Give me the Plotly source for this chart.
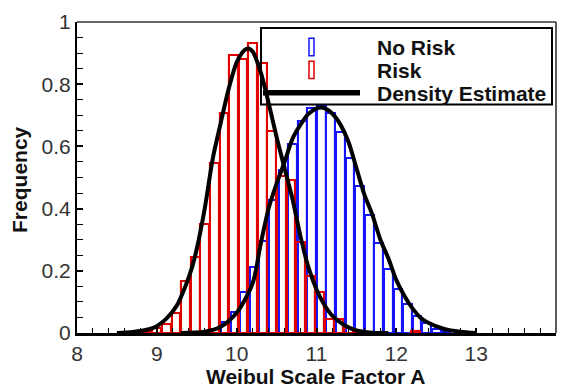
import plotly.graph_objects as go

# ---------------- data ----------------
red_bin_centers = [8.88, 9.00, 9.12, 9.24, 9.36, 9.48, 9.60, 9.72, 9.84, 9.96, 10.08, 10.20,
                   10.32, 10.44, 10.56, 10.68, 10.80, 10.92, 11.04, 11.16, 11.28, 11.40, 11.52, 12.24]
red_freq = [0.005, 0.017, 0.029, 0.064, 0.167, 0.243, 0.350, 0.548, 0.706, 0.893, 0.882, 0.932,
            0.867, 0.651, 0.504, 0.493, 0.292, 0.184, 0.133, 0.046, 0.046, 0.015, 0.005, 0.005]

blue_bin_centers = [9.62, 9.74, 9.86, 9.98, 10.10, 10.22, 10.34, 10.46, 10.58, 10.70, 10.82, 10.94,
                    11.06, 11.18, 11.30, 11.42, 11.54, 11.66, 11.78, 11.90, 12.02, 12.14, 12.26,
                    12.38, 12.50, 12.62]
blue_freq = [0.004, 0.012, 0.035, 0.069, 0.132, 0.211, 0.296, 0.427, 0.523, 0.607, 0.681, 0.723,
             0.730, 0.709, 0.646, 0.563, 0.474, 0.378, 0.291, 0.207, 0.141, 0.094, 0.054,
             0.033, 0.012, 0.005]

red_curve_x = [8.5, 8.7, 8.9, 9.0, 9.12, 9.25, 9.35, 9.44, 9.5, 9.6, 9.7, 9.8, 9.9, 10.0, 10.1,
               10.15, 10.2, 10.3, 10.4, 10.5, 10.6, 10.7, 10.8, 10.9, 11.0, 11.1, 11.2, 11.35,
               11.5, 11.7, 11.9]
red_curve_y = [0.0, 0.003, 0.012, 0.022, 0.046, 0.088, 0.145, 0.21, 0.27, 0.40, 0.56, 0.675, 0.785,
               0.87, 0.91, 0.915, 0.905, 0.84, 0.74, 0.63, 0.53, 0.43, 0.31, 0.21, 0.14, 0.09,
               0.055, 0.025, 0.008, 0.001, 0.0]

blue_curve_x = [9.3, 9.6, 9.8, 10.0, 10.2, 10.3, 10.4, 10.5, 10.6, 10.7, 10.8, 10.9, 11.0, 11.05,
                11.1, 11.2, 11.3, 11.4, 11.5, 11.6, 11.7, 11.8, 11.9, 12.0, 12.1, 12.2, 12.3,
                12.4, 12.6, 12.8, 13.0]
blue_curve_y = [0.0, 0.004, 0.02, 0.065, 0.16, 0.285, 0.40, 0.48, 0.55, 0.625, 0.67, 0.705, 0.722,
                0.725, 0.723, 0.705, 0.67, 0.615, 0.53, 0.445, 0.38, 0.30, 0.24, 0.17, 0.12,
                0.08, 0.05, 0.033, 0.013, 0.004, 0.0]

x_ticks = [8, 9, 10, 11, 12, 13, 14]
y_ticks = [0, 0.2, 0.4, 0.6, 0.8, 1]
legend_labels = ["No Risk", "Risk", "Density Estimate"]

BIN_W = 0.11
BLUE = "#1414ff"
RED = "#e00000"
FONT = "Liberation Sans, Arial, sans-serif"

fig = go.Figure()
fig.add_trace(go.Bar(x=blue_bin_centers, y=blue_freq, width=BIN_W,
                     marker=dict(color="rgba(0,0,0,0)", line=dict(color=BLUE, width=2.1)),
                     showlegend=False))
fig.add_trace(go.Bar(x=red_bin_centers, y=red_freq, width=BIN_W,
                     marker=dict(color="rgba(0,0,0,0)", line=dict(color=RED, width=2.1)),
                     showlegend=False))
for cx, cy in [(red_curve_x, red_curve_y), (blue_curve_x, blue_curve_y)]:
    fig.add_trace(go.Scatter(x=cx, y=cy, mode="lines",
                             line=dict(color="black", width=4, shape="spline", smoothing=0.8),
                             showlegend=False))

# plot-area geometry helpers (pixels -> paper)
L, R, T, B = 77, 10, 16, 58
W, H = 566, 391
PW, PH = W - L - R, H - T - B


def px(xp):
    return (xp - L) / PW


def py(yp):
    return (H - B - yp) / PH


shapes = [
    # top & right frame
    dict(type="line", xref="paper", yref="paper", x0=0, x1=1, y0=1, y1=1,
         line=dict(color="#333333", width=1.6)),
    dict(type="line", xref="paper", yref="paper", x0=1, x1=1, y0=0, y1=1,
         line=dict(color="#333333", width=1.6)),
    # legend box
    dict(type="rect", xref="paper", yref="paper", x0=px(261), x1=px(552), y0=py(100), y1=py(22),
         line=dict(color="black", width=2), fillcolor="rgba(0,0,0,0)"),
    # legend icons
    dict(type="rect", xref="paper", yref="paper", x0=px(309), x1=px(314), y0=py(50.5), y1=py(32.5),
         line=dict(color=BLUE, width=1.5), fillcolor="rgba(0,0,0,0)"),
    dict(type="rect", xref="paper", yref="paper", x0=px(309), x1=px(314), y0=py(73.5), y1=py(56),
         line=dict(color=RED, width=1.5), fillcolor="rgba(0,0,0,0)"),
    dict(type="line", xref="paper", yref="paper", x0=px(263), x1=px(360), y0=py(88), y1=py(88),
         line=dict(color="black", width=5.5)),
]

annotations = []
for lab, yc in zip(legend_labels, [40.5, 64, 87.5]):
    annotations.append(dict(text=lab, xref="paper", yref="paper", x=px(375), y=py(yc + 1),
                            xanchor="left", yanchor="middle", showarrow=False,
                            font=dict(family=FONT, size=21, color="#111111", weight="bold")))
annotations.append(dict(text="Weibul Scale Factor A", xref="paper", yref="paper",
                        x=px(315.5), y=py(377), xanchor="center", yanchor="middle", showarrow=False,
                        font=dict(family=FONT, size=21, color="#111111", weight="bold")))
annotations.append(dict(text="Frequency", xref="paper", yref="paper", textangle=-90,
                        x=px(20), y=py(177), xanchor="center", yanchor="middle", showarrow=False,
                        font=dict(family=FONT, size=21, color="#111111", weight="bold")))

fig.update_layout(
    width=W, height=H,
    margin=dict(l=L, r=R, t=T, b=B, pad=0),
    paper_bgcolor="white", plot_bgcolor="white",
    barmode="overlay", bargap=0,
    shapes=shapes, annotations=annotations,
    showlegend=False,
    xaxis=dict(range=[8, 14], tickvals=x_ticks, ticks="inside", ticklen=5, tickwidth=1.5,
               tickcolor="black", showline=True, linecolor="black", linewidth=3,
               showgrid=False, zeroline=False,
               minor=dict(dtick=0.2, ticks="inside", ticklen=5, tickwidth=1.2, tickcolor="black",
                          showgrid=False),
               tickfont=dict(family=FONT, size=21, color="#333333")),
    yaxis=dict(range=[0, 1], tickvals=y_ticks, ticktext=["0", "0.2", "0.4", "0.6", "0.8", "1"],
               ticks="inside", ticklen=6, tickwidth=1.5,
               tickcolor="black", showline=True, linecolor="black", linewidth=2,
               showgrid=False, zeroline=False,
               minor=dict(dtick=0.05, ticks="inside", ticklen=6, tickwidth=1.2, tickcolor="black",
                          showgrid=False),
               tickfont=dict(family=FONT, size=21, color="#333333")),
)

fig.write_html("out.html")
